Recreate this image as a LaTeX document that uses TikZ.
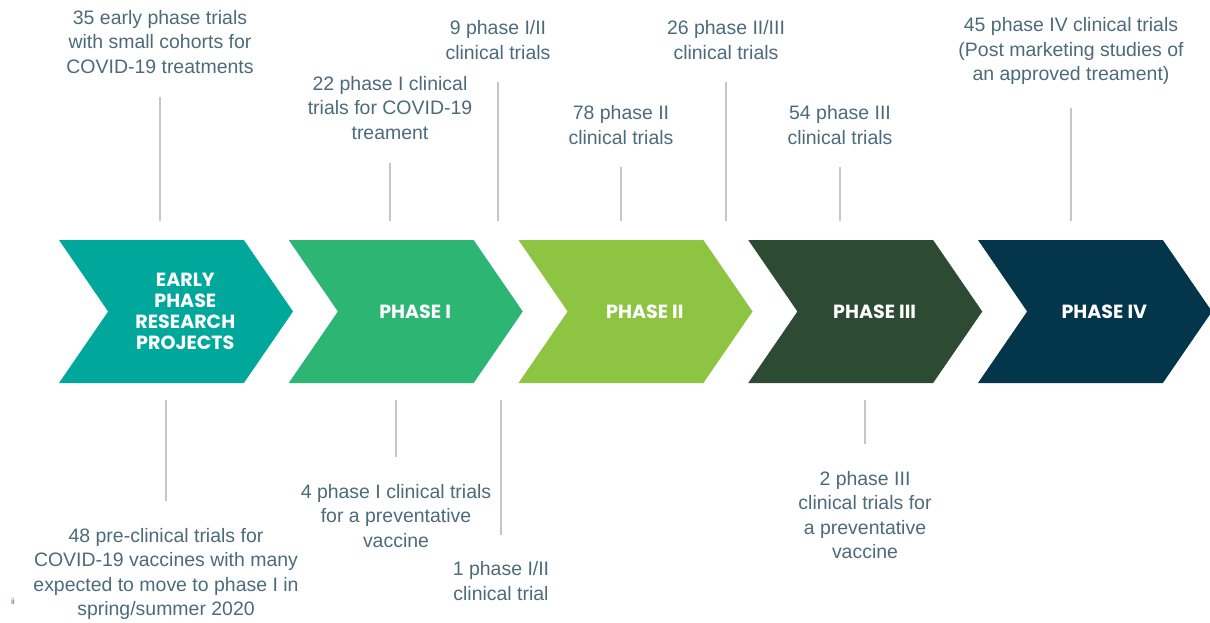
\documentclass[tikz,border=0pt]{standalone}
\usepackage{fontspec}
\setmainfont{Liberation Sans}
\newfontfamily\titlefont{Poppins}
\usetikzlibrary{shapes.symbols}
\def\chevronwidth{175.5pt}
\def\chevronheight{107.25pt}
\def\pointerangle{111}
\def\titleshift{7pt}
\def\leadwidth{1.5pt}
\def\leadgap{17pt}
\def\chevrongap{14pt}
\definecolor{labeltext}{HTML}{4B6B7B}
\definecolor{leadgray}{HTML}{C6C6C6}
\definecolor{earlyfill}{HTML}{00A89C}
\definecolor{phaseonefill}{HTML}{2DB573}
\definecolor{phasetwofill}{HTML}{8DC543}
\definecolor{phasethreefill}{HTML}{2D4A33}
\definecolor{phasefourfill}{HTML}{03364B}
\tikzset{
	% chevrons
	chevron/.style={
		shape=signal,
		signal from=west,
		signal to=east,
		signal pointer angle=\pointerangle,
		minimum width=\chevronwidth,
		minimum height=\chevronheight,
		inner sep=0pt,
		outer sep=0pt,
	},
	% titles inside the chevrons
	phasetitle/.style={
		font=\titlefont\bfseries\fontsize{14.3}{15.75}\selectfont,
		text=white,
		align=center,
		inner sep=0pt,
	},
	% trial counts
	trialcount/.style={
		font=\fontsize{14.6}{18.4}\selectfont,
		text=labeltext,
		align=center,
		inner sep=0pt,
	},
	% leader lines
	leader/.style={
		draw=leadgray,
		line width=\leadwidth,
	}
}
\begin{document}
\begin{tikzpicture}[x=0.75pt, y=-0.75pt]
	\useasboundingbox (0,0) rectangle (1210,622);
	%
	\foreach \name/\col [count=\i from 0] in {early/earlyfill, phaseone/phaseonefill, phasetwo/phasetwofill, phasethree/phasethreefill, phasefour/phasefourfill}{
		\node[
			chevron,
			fill=\col
		] (\name) at ({176+229.75*\i}, 311.5) {};
	}
	%
	\node[phasetitle] (earlytitle) at ([xshift=\titleshift]early.center) {EARLY\\PHASE\\RESEARCH\\PROJECTS};
	\node[phasetitle] (phaseonetitle) at ([xshift=\titleshift]phaseone.center) {PHASE I};
	\node[phasetitle] (phasetwotitle) at ([xshift=\titleshift]phasetwo.center) {PHASE II};
	\node[phasetitle] (phasethreetitle) at ([xshift=\titleshift]phasethree.center) {PHASE III};
	\node[phasetitle] (phasefourtitle) at ([xshift=\titleshift]phasefour.center) {PHASE IV};
	%
	% counts above
	\node[trialcount] (topearly) at (160, 42) {35 early phase trials\\with small cohorts for\\COVID-19 treatments};
	\node[trialcount] (topone) at (390, 108) {22 phase I clinical\\trials for COVID-19\\treament};
	\node[trialcount] (toponetwo) at (498, 40) {9 phase I/II\\clinical trials};
	\node[trialcount] (toptwo) at (621, 125) {78 phase II\\clinical trials};
	\node[trialcount] (toptwothree) at (726, 40) {26 phase II/III\\clinical trials};
	\node[trialcount] (topthree) at (840, 125) {54 phase III\\clinical trials};
	\node[trialcount] (topfour) at (1071, 51) {45 phase IV clinical trials\\(Post marketing studies of\\an approved treament)};
	%
	% counts below
	\node[trialcount] (botearly) at (166, 574) {48 pre-clinical trials for\\COVID-19 vaccines with many\\expected to move to phase I in\\spring/summer 2020};
	\node[trialcount] (botone) at (396, 516) {4 phase I clinical trials\\for a preventative\\vaccine};
	\node[trialcount] (botonetwo) at (501, 581) {1 phase I/II\\clinical trial};
	\node[trialcount] (botthree) at (865, 515) {2 phase III\\clinical trials for\\a preventative\\vaccine};
	%
	\node[trialcount, font=\fontsize{6.5}{7}\selectfont] (pagemark) at (13, 601) {ii};
	%
	% leader lines
	\foreach \lbl in {topearly, topone, toponetwo, toptwo, toptwothree, topthree, topfour}{
		\draw[leader] ([yshift=-\leadgap]\lbl.south) -- ([yshift=\chevrongap]\lbl.south |- early.north);
	}
	\foreach \lbl in {botearly, botone, botonetwo, botthree}{
		\draw[leader] ([yshift=-13pt]\lbl.north |- early.south) -- ([yshift=20pt]\lbl.north);
	}
\end{tikzpicture}
\end{document}
